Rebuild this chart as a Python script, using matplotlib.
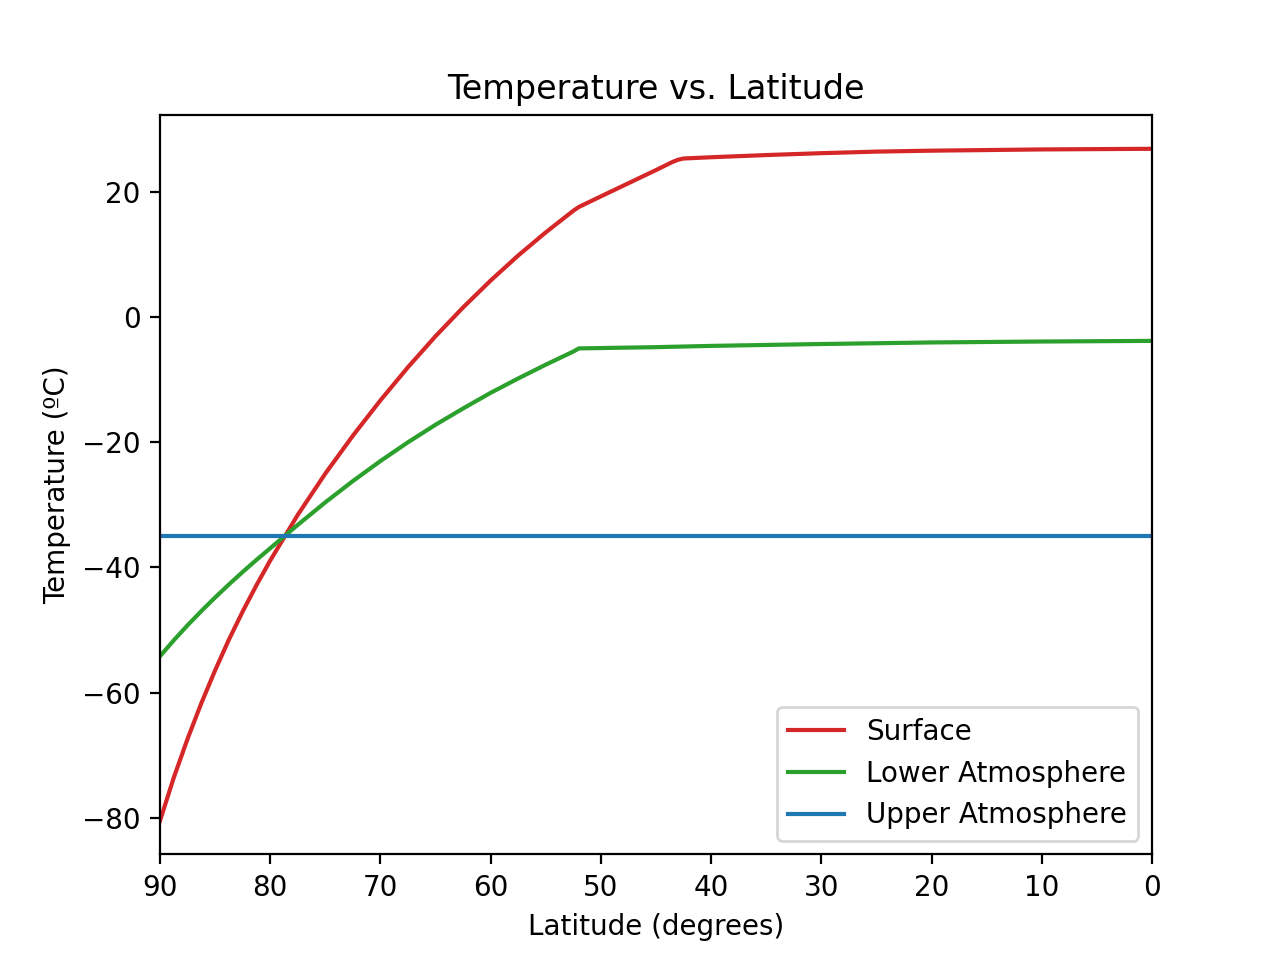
import matplotlib
matplotlib.use("Agg")
import matplotlib.pyplot as plt

lat_surface = [90, 88.75, 87.5, 86.25, 85, 83.75, 82.5, 81.25, 80, 77.5, 75,
               72.5, 70, 67.5, 65, 62.5, 60, 57.5, 55, 52.5, 52, 50, 47.5, 45,
               43.5, 43, 42.5, 40, 35, 30, 25, 20, 15, 10, 5, 0]
surface = [-80.5, -73.6, -67.4, -61.7, -56.45, -51.55, -47.05, -42.85, -38.9,
           -31.6, -25.0, -18.95, -13.3, -8.0, -3.05, 1.55, 5.85, 9.85, 13.55,
           17.0, 17.6, 19.3, 21.4, 23.5, 24.8, 25.15, 25.35, 25.55, 25.9,
           26.2, 26.45, 26.6, 26.7, 26.8, 26.85, 26.9]

lat_lower = [90, 88.75, 87.5, 86.25, 85, 83.75, 82.5, 81.25, 80, 77.5, 75,
             72.5, 70, 67.5, 65, 62.5, 60, 57.5, 55, 52.5, 52, 45, 40, 30,
             20, 10, 0]
lower = [-54.2, -51.65, -49.25, -46.98, -44.81, -42.73, -40.73, -38.8,
         -36.94, -33.2, -29.6, -26.2, -23.0, -20.0, -17.2, -14.6, -12.1,
         -9.8, -7.6, -5.5, -5.0, -4.8, -4.6, -4.3, -4.05, -3.9, -3.8]

lat_upper = [90, 0]
upper = [-35.0, -35.0]

fig, ax = plt.subplots(figsize=(6.4, 4.8), dpi=200)
ax.plot(lat_surface, surface, color="tab:red", label="Surface")
ax.plot(lat_lower, lower, color="tab:green", label="Lower Atmosphere")
ax.plot(lat_upper, upper, color="tab:blue", label="Upper Atmosphere")
ax.set_xlim(90, 0)
ax.set_title("Temperature vs. Latitude")
ax.set_xlabel("Latitude (degrees)")
ax.set_ylabel("Temperature (ºC)")
ax.legend(loc="lower right")
fig.savefig("out.png", dpi=200)
